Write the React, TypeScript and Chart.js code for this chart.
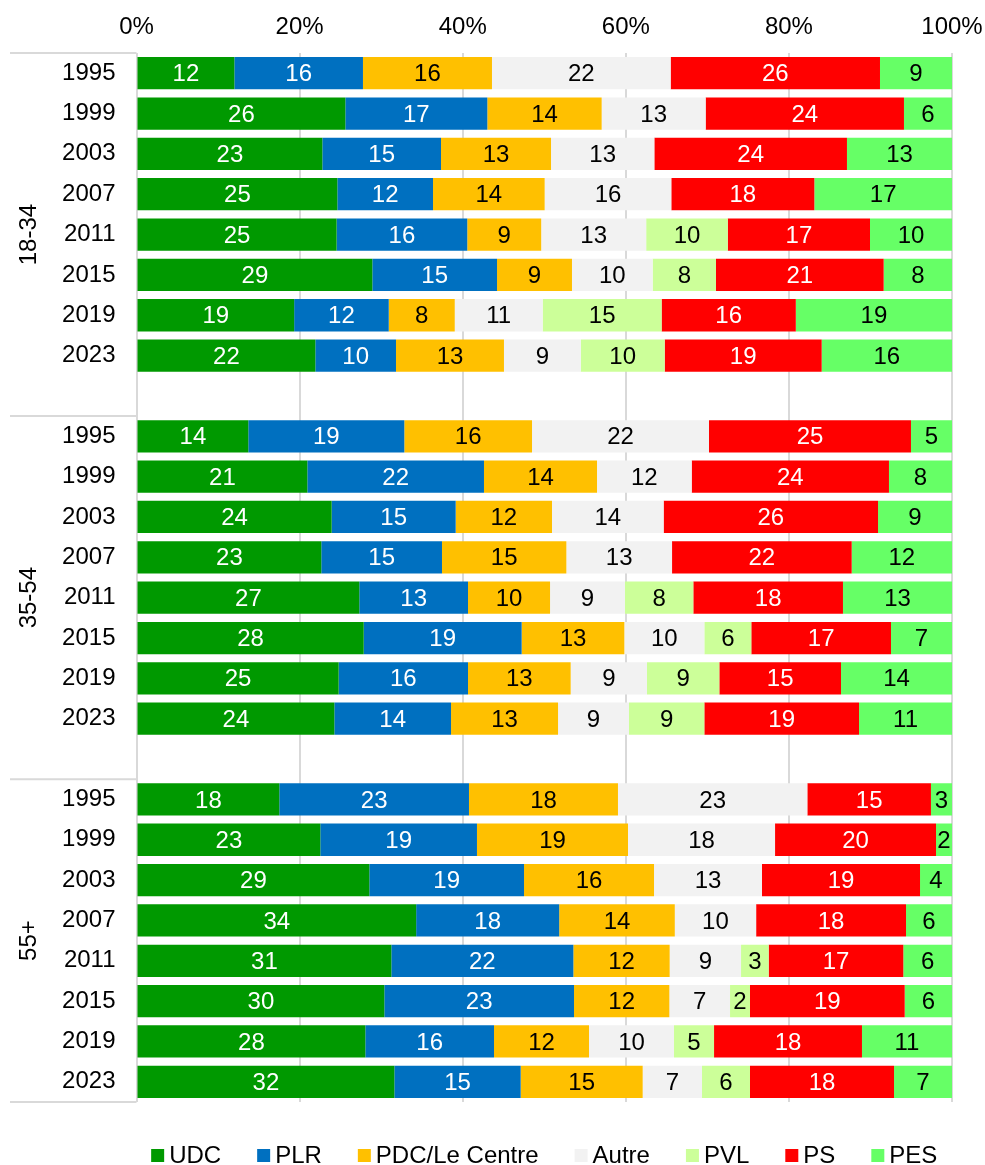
import React, { useEffect, useRef } from 'react';
import { Chart, registerables } from 'chart.js';

Chart.register(...registerables);

const FONT = "'Liberation Sans', Arial, Helvetica, sans-serif";

const years = ['1995', '1999', '2003', '2007', '2011', '2015', '2019', '2023'];
const groups = ['18-34', '35-54', '55+'];
const parties = ['UDC', 'PLR', 'PDC/Le Centre', 'Autre', 'PVL', 'PS', 'PES'];
const colors = ['#009900', '#0070C0', '#FFC000', '#F2F2F2', '#CCFF99', '#FF0000', '#66FF66'];
const labelColors = ['#FFFFFF', '#FFFFFF', '#000000', '#000000', '#000000', '#FFFFFF', '#000000'];

// 24 values each: 18-34 (1995..2023), 35-54 (1995..2023), 55+ (1995..2023)
const udc = [12.0, 25.61, 22.79, 24.63, 24.55, 28.92, 19.35, 21.93, 13.71, 20.95, 23.93, 22.66, 27.32, 27.86, 24.79, 24.26, 17.51, 22.54, 28.55, 34.31, 31.25, 30.39, 28.06, 31.62];
const plr = [15.77, 17.41, 14.55, 11.73, 16.03, 15.29, 11.61, 9.89, 19.13, 21.66, 15.21, 14.8, 13.33, 19.37, 15.86, 14.31, 23.26, 19.21, 18.97, 17.55, 22.32, 23.26, 15.78, 15.49];
const pdc = [15.82, 14.02, 13.49, 13.69, 9.07, 9.19, 8.1, 13.24, 15.66, 13.86, 11.81, 15.25, 10.06, 12.59, 12.59, 13.12, 18.27, 18.52, 15.94, 14.18, 11.81, 11.69, 11.65, 14.96];
const autre = [21.91, 12.75, 12.67, 15.53, 12.88, 9.89, 10.79, 9.41, 21.7, 11.61, 13.69, 12.96, 9.19, 9.81, 9.36, 8.7, 23.22, 18.03, 13.24, 9.98, 8.75, 7.44, 10.42, 7.27];
const pvl = [0, 0, 0, 0, 10.01, 7.77, 14.6, 10.3, 0, 0, 0, 0, 8.38, 5.76, 8.87, 9.24, 0, 0, 0, 0, 3.39, 2.45, 4.91, 5.89];
const ps = [25.67, 24.32, 23.62, 17.54, 17.45, 20.56, 16.47, 19.25, 24.77, 24.19, 26.29, 22.03, 18.35, 17.13, 14.92, 18.97, 15.16, 19.74, 19.38, 18.39, 16.51, 18.97, 18.14, 17.66];
const pes = [8.83, 5.89, 12.88, 16.88, 10.06, 8.38, 19.17, 15.98, 5.03, 7.73, 9.07, 12.3, 13.37, 7.48, 13.61, 11.4, 2.58, 1.96, 3.92, 5.64, 5.97, 5.8, 11.04, 7.11];

const xTicks = [0, 20, 40, 60, 80, 100];

const series = [udc, plr, pdc, autre, pvl, ps, pes];

// Build rows with an empty spacer row between groups
const rowLabels: string[] = [];
const rowIndex: (number | null)[] = [];
groups.forEach((g, gi) => {
  years.forEach((y, yi) => {
    rowLabels.push(y);
    rowIndex.push(gi * years.length + yi);
  });
  if (gi < groups.length - 1) {
    rowLabels.push('');
    rowIndex.push(null);
  }
});

const rowTotals = rowIndex.map((ri) =>
  ri === null ? 0 : series.reduce((s, arr) => s + arr[ri], 0)
);

const rawRows = series.map((arr) => rowIndex.map((ri) => (ri === null ? null : arr[ri])));
const normRows = series.map((arr) =>
  rowIndex.map((ri, k) => (ri === null ? null : (arr[ri] / rowTotals[k]) * 100))
);

const overlayPlugin = {
  id: 'overlay',
  afterDatasetsDraw(chart: any) {
    const ctx = chart.ctx;
    ctx.save();
    ctx.font = `24px ${FONT}`;
    ctx.textAlign = 'center';
    ctx.textBaseline = 'middle';
    chart.data.datasets.forEach((ds: any, i: number) => {
      const meta = chart.getDatasetMeta(i);
      meta.data.forEach((bar: any, j: number) => {
        const raw = rawRows[i][j];
        if (!raw) return;
        const cx = (bar.x + bar.base) / 2;
        ctx.fillStyle = labelColors[i];
        ctx.fillText(String(Math.round(raw)), cx, bar.y + 1.5);
      });
    });
    ctx.restore();
  },
  afterDraw(chart: any) {
    const ctx = chart.ctx;
    const ys = chart.scales.y;
    const xs = chart.scales.x;
    const area = chart.chartArea;
    const band = ys.getPixelForValue(1) - ys.getPixelForValue(0);
    ctx.save();
    // x tick labels (top)
    ctx.fillStyle = '#000';
    ctx.font = `24px ${FONT}`;
    ctx.textAlign = 'center';
    ctx.textBaseline = 'middle';
    xTicks.forEach((v) => {
      ctx.fillText(v + '%', xs.getPixelForValue(v), area.top - 26);
    });
    // group separators on the category axis
    ctx.strokeStyle = '#d9d9d9';
    ctx.lineWidth = 2;
    const starts: number[] = [];
    let k = 0;
    groups.forEach((g, gi) => {
      starts.push(k);
      k += years.length + (gi < groups.length - 1 ? 1 : 0);
    });
    const bounds = starts.map((s) => ys.getPixelForValue(s) - band / 2);
    bounds.push(area.bottom);
    bounds.forEach((yy) => {
      ctx.beginPath();
      ctx.moveTo(2, yy);
      ctx.lineTo(area.left, yy);
      ctx.stroke();
    });
    // group labels
    groups.forEach((g, gi) => {
      const cy = (bounds[gi] + bounds[gi + 1]) / 2;
      ctx.save();
      ctx.translate(21, cy);
      ctx.rotate(-Math.PI / 2);
      ctx.fillText(g, 0, 0);
      ctx.restore();
    });
    // legend
    const box = 13;
    const gapBox = 5;
    const gapItem = 36;
    ctx.textAlign = 'left';
    const widths = parties.map((p) => box + gapBox + ctx.measureText(p).width);
    const total = widths.reduce((a, b) => a + b, 0) + gapItem * (parties.length - 1);
    let x = (area.left + area.right) / 2 - total / 2;
    const ly = 1147.5;
    parties.forEach((p, i) => {
      ctx.fillStyle = colors[i];
      ctx.fillRect(x, ly - box / 2, box, box);
      ctx.fillStyle = '#000';
      ctx.fillText(p, x + box + gapBox, ly + 1);
      x += widths[i] + gapItem;
    });
    ctx.restore();
  },
};

export default function App() {
  const ref = useRef<HTMLCanvasElement>(null);
  useEffect(() => {
    document.body.style.margin = '0';
    document.body.style.overflow = 'hidden';
    const chart = new Chart(ref.current as HTMLCanvasElement, {
      type: 'bar',
      data: {
        labels: rowLabels,
        datasets: parties.map((p, i) => ({
          label: p,
          data: normRows[i] as any,
          backgroundColor: colors[i],
          borderWidth: 0,
          barPercentage: 0.8,
          categoryPercentage: 1,
        })),
      },
      options: {
        indexAxis: 'y',
        animation: false,
        responsive: true,
        maintainAspectRatio: false,
        layout: { padding: { left: 0, right: 33, top: 0, bottom: 63 } },
        plugins: {
          legend: { display: false },
          tooltip: { enabled: false },
        },
        scales: {
          x: {
            position: 'top',
            stacked: true,
            min: 0,
            max: 100,
            afterBuildTicks: (s: any) => {
              s.ticks = xTicks.map((v) => ({ value: v }));
            },
            ticks: { display: false },
            grid: { color: '#d9d9d9', lineWidth: 2, drawTicks: false },
            border: { display: false },
            afterFit: (s: any) => {
              s.height = 45;
              s.paddingLeft = 0;
              s.paddingRight = 0;
            },
          },
          y: {
            stacked: true,
            ticks: {
              autoSkip: false,
              font: { family: FONT, size: 24 },
              color: '#000',
              padding: 21,
            },
            grid: { display: false, drawTicks: false },
            border: { display: false },
            afterFit: (s: any) => {
              s.width = 128.5;
              s.paddingTop = 0;
              s.paddingBottom = 0;
            },
          },
        },
      },
      plugins: [overlayPlugin],
    });
    return () => chart.destroy();
  }, []);
  return (
    <div style={{ padding: '8px 0 0 8px', width: 977 }}>
      <div style={{ position: 'relative', width: 977, height: 1157 }}>
        <canvas ref={ref} />
      </div>
    </div>
  );
}
